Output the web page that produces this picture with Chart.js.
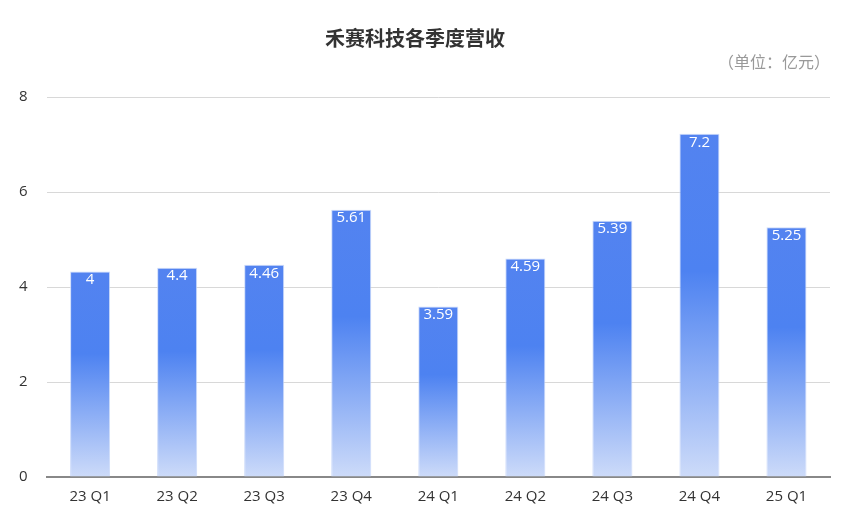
<!DOCTYPE html>
<html>
<head>
<meta charset="utf-8">
<script src="https://cdn.jsdelivr.net/npm/chart.js@4"></script>
<style>
  html, body { margin: 0; padding: 0; background: #fff; }
  #wrap { width: 846px; height: 531px; position: relative; }
</style>
</head>
<body>
<div id="wrap"><canvas id="chart"></canvas></div>
<script>
// quarters and revenue (亿元)
const quarters = ['23 Q1', '23 Q2', '23 Q3', '23 Q4', '24 Q1', '24 Q2', '24 Q3', '24 Q4', '25 Q1'];
const revenue = [4.33, 4.41, 4.47, 5.63, 3.59, 4.6, 5.4, 7.23, 5.26];
const revenueLabels = ['4', '4.4', '4.46', '5.61', '3.59', '4.59', '5.39', '7.2', '5.25'];
const yTicks = [0, 2, 4, 6, 8];

const FONT = '"Open Sans", "Noto Sans CJK SC", sans-serif';

// gradient per bar, from the top of the bar down to the axis
function barGradient(ctx) {
  const chart = ctx.chart;
  const ys = chart.scales && chart.scales.y;
  if (!chart.chartArea || !ys || ctx.raw == null) return '#4f83f0';
  const top = ys.getPixelForValue(ctx.raw), bottom = ys.getPixelForValue(0);
  if (!isFinite(top) || !isFinite(bottom)) return '#4f83f0';
  const g = chart.ctx.createLinearGradient(0, top, 0, bottom);
  g.addColorStop(0, '#5383f0');
  g.addColorStop(0.4, '#4d82f1');
  g.addColorStop(1, '#cddbf9');
  return g;
}

// white value text at the top of each bar
const valueLabels = {
  id: 'valueLabels',
  afterDatasetsDraw(chart) {
    const c = chart.ctx;
    const meta = chart.getDatasetMeta(0);
    c.save();
    c.fillStyle = '#ffffff';
    c.font = '15px ' + FONT;
    c.textAlign = 'center';
    c.textBaseline = 'top';
    meta.data.forEach((bar, i) => {
      c.fillText(revenueLabels[i], bar.x, bar.y + 1);
    });
    c.restore();
  }
};

new Chart(document.getElementById('chart'), {
  type: 'bar',
  data: {
    labels: quarters,
    datasets: [{
      data: revenue,
      backgroundColor: barGradient,
      borderColor: 'rgba(200,215,250,0.9)',
      borderWidth: 1,
      borderSkipped: 'bottom',
      barPercentage: 0.92,
      categoryPercentage: 0.5
    }]
  },
  options: {
    responsive: true,
    maintainAspectRatio: false,
    animation: false,
    layout: { padding: { left: 0, right: 16, top: 0, bottom: 14 } },
    plugins: {
      legend: { display: false },
      tooltip: { enabled: false },
      title: {
        display: true,
        text: '禾赛科技各季度营收',
        color: '#333333',
        font: { family: FONT, size: 20, weight: 'bold' },
        padding: { top: 28, bottom: 2 }
      },
      subtitle: {
        display: true,
        text: '（单位：亿元）',
        align: 'end',
        color: '#999999',
        font: { family: FONT, size: 16 },
        padding: { top: 0, bottom: 24 }
      }
    },
    scales: {
      x: {
        grid: { display: false, drawTicks: false },
        border: { color: '#888888', width: 2 },
        ticks: { color: '#333333', font: { family: FONT, size: 15 }, padding: 11 }
      },
      y: {
        min: 0,
        max: 8,
        z: 1,
        afterBuildTicks(scale) { scale.ticks = yTicks.map(v => ({ value: v })); },
        grid: { color: 'rgba(200,200,200,0.7)', drawTicks: false },
        border: { display: false },
        ticks: { color: '#333333', font: { family: FONT, size: 15 }, padding: 19 }
      }
    }
  },
  plugins: [valueLabels]
});
</script>
</body>
</html>
